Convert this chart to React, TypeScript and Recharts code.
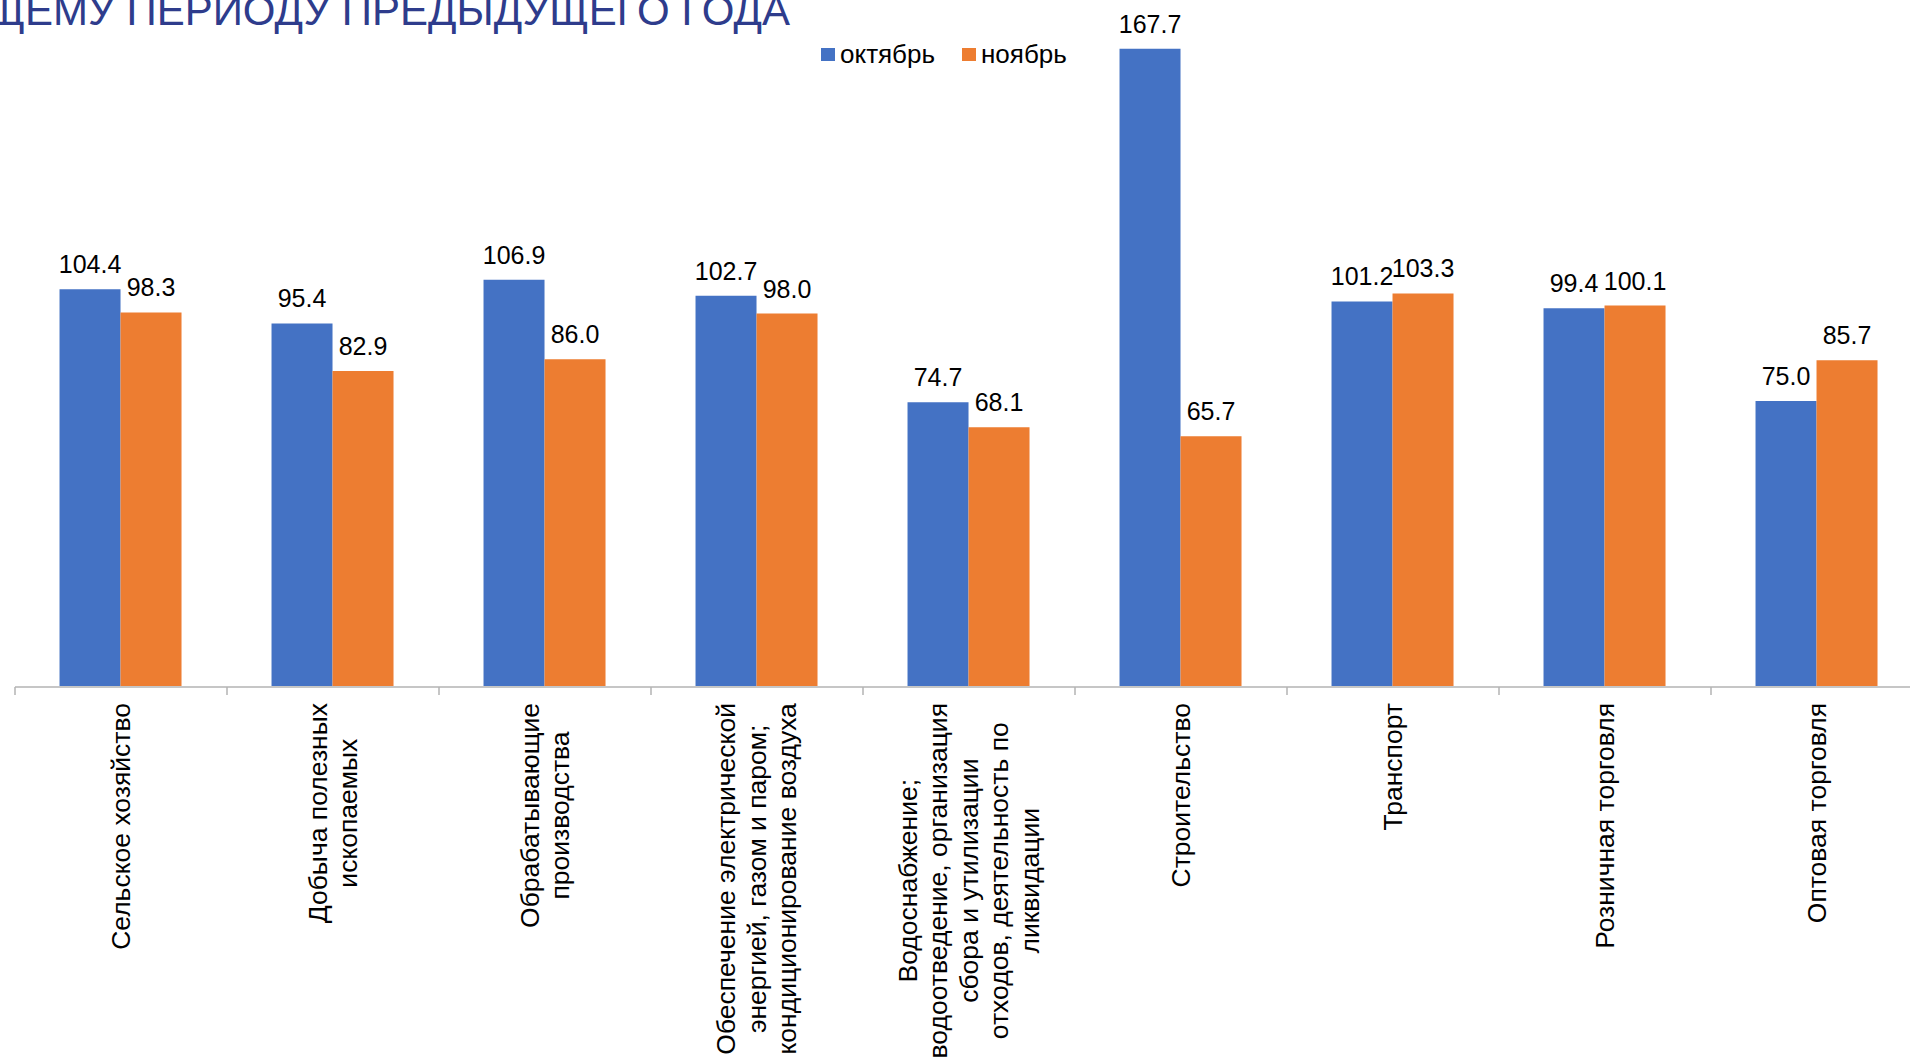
import { Bar, BarChart, LabelList, Legend, XAxis, YAxis } from "recharts";

const CATEGORIES = [
  "Сельское хозяйство",
  "Добыча полезных\nископаемых",
  "Обрабатывающие\nпроизводства",
  "Обеспечение электрической\nэнергией, газом и паром;\nкондиционирование воздуха",
  "Водоснабжение;\nводоотведение, организация\nсбора и утилизации\nотходов, деятельность по\nликвидации",
  "Строительство",
  "Транспорт",
  "Розничная торговля",
  "Оптовая торговля",
];
const OCTOBER = [104.4, 95.4, 106.9, 102.7, 74.7, 167.7, 101.2, 99.4, 75.0];
const NOVEMBER = [98.3, 82.9, 86.0, 98.0, 68.1, 65.7, 103.3, 100.1, 85.7];
const SERIES = [
  { key: "oct", name: "октябрь", color: "#4472C4" },
  { key: "nov", name: "ноябрь", color: "#ED7D31" },
];
const BOUNDARY_TICKS = CATEGORIES.map((_, i) => i).concat(CATEGORIES.length);

const FONT = '"Liberation Sans", Arial, sans-serif';
const AXIS_COLOR = "#B3B3B3";
const LABEL_SIZE = 26.5;
const LINE_GAP = 30.5;

let ctx: CanvasRenderingContext2D | null = null;
function measure(text: string) {
  if (!ctx) ctx = document.createElement("canvas").getContext("2d");
  if (!ctx) return text.length * LABEL_SIZE * 0.5;
  ctx.font = `${LABEL_SIZE}px ${FONT}`;
  return ctx.measureText(text).width;
}

function CategoryTick({ x, y, payload }: any) {
  const lines = String(payload.value).split("\n");
  const maxW = Math.max(...lines.map(measure));
  const cy = y + 17 + maxW / 2;
  return (
    <g>
      {lines.map((line, i) => {
        const lx = x + (i - (lines.length - 1) / 2) * LINE_GAP;
        return (
          <text
            key={i}
            x={lx}
            y={cy}
            transform={`rotate(-90 ${lx} ${cy})`}
            textAnchor="middle"
            dominantBaseline="central"
            fontSize={LABEL_SIZE}
            fontFamily={FONT}
            fill="#000"
          >
            {line}
          </text>
        );
      })}
    </g>
  );
}

function LegendBox() {
  return (
    <svg width={260} height={32} style={{ display: "block" }}>
      <rect x={0} y={8} width={14} height={13} fill={SERIES[0].color} />
      <text x={19} y={23} fontSize={26} fontFamily={FONT} fill="#000">
        {SERIES[0].name}
      </text>
      <rect x={141} y={8} width={14} height={13} fill={SERIES[1].color} />
      <text x={160} y={23} fontSize={26} fontFamily={FONT} fill="#000">
        {SERIES[1].name}
      </text>
    </svg>
  );
}

export default function App() {
  const data = CATEGORIES.map((name, i) => ({ name, pos: i + 0.5, oct: OCTOBER[i], nov: NOVEMBER[i] }));

  return (
    <div style={{ position: "absolute", left: 0, top: 0, width: 1910, height: 1059, overflow: "hidden", background: "#fff" }}>
      <svg width={1910} height={60} style={{ position: "absolute", left: 0, top: 0 }}>
        <text x={790} y={25} textAnchor="end" fontSize={42} fontFamily={FONT} fill="#2E3C8C">
          СООТВЕТСТВУЮЩЕМУ ПЕРИОДУ ПРЕДЫДУЩЕГО ГОДА
        </text>
      </svg>
      <BarChart
        width={1910}
        height={1059}
        data={data}
        margin={{ top: 2, right: -13, left: 15, bottom: 0 }}
        barCategoryGap="21%"
        barGap={0}
      >
        <XAxis
          xAxisId="grid"
          dataKey="pos"
          type="number"
          domain={[0, CATEGORIES.length]}
          ticks={BOUNDARY_TICKS}
          allowDataOverflow
          height={372}
          tick={() => <g />}
          tickSize={8}
          axisLine={{ stroke: AXIS_COLOR, strokeWidth: 1.5 }}
          tickLine={{ stroke: AXIS_COLOR, strokeWidth: 1.5 }}
        />
        <XAxis
          xAxisId="cat"
          dataKey="name"
          height={1}
          interval={0}
          axisLine={false}
          tickLine={false}
          tickSize={0}
          tickMargin={0}
          tick={<CategoryTick />}
        />
        <YAxis hide domain={[0, 180]} />
        <Legend
          layout="vertical"
          align="center"
          verticalAlign="middle"
          content={() => <LegendBox />}
          wrapperStyle={{ top: 40, left: 821, width: 260, height: 32 }}
        />
        {SERIES.map((s) => (
          <Bar key={s.key} xAxisId="cat" dataKey={s.key} name={s.name} fill={s.color} isAnimationActive={false}>
            <LabelList
              dataKey={s.key}
              position="top"
              offset={16}
              formatter={(v: any) => Number(v).toFixed(1)}
              fill="#000"
              fontSize={25}
              fontFamily={FONT}
            />
          </Bar>
        ))}
      </BarChart>
    </div>
  );
}
